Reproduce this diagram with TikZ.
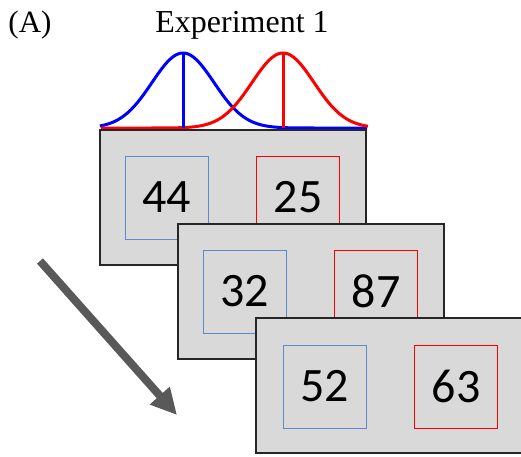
\documentclass[tikz,border=0pt]{standalone}
\usepackage{fontspec}
\setmainfont{Liberation Serif}
\newfontfamily\numfont{Carlito}
\usetikzlibrary{arrows.meta}
\definecolor{panelgray}{HTML}{D9D9D9}
\definecolor{boxblue}{HTML}{5B8BCB}
\definecolor{arrgray}{HTML}{595959}
\tikzset{
  panel/.style={draw=black!85, line width=1.3pt, fill=panelgray, minimum width=266pt, minimum height=135pt, inner sep=0pt},
  numbox/.style={draw=#1, line width=1pt, minimum size=83pt, inner sep=0pt, font=\numfont\fontsize{48}{50}\selectfont},
  curve/.style={line width=3pt}
}
\begin{document}
\begin{tikzpicture}[x=1pt,y=-1pt]
\useasboundingbox (0,0) rectangle (521,456);
\node[anchor=base] (lab) at (30,32) {\fontsize{31}{34}\selectfont (A)};
\node[anchor=base] (title) at (242,32) {\fontsize{32}{34}\selectfont Experiment 1};
% the two distributions
\draw[curve, blue] plot[domain=-2.68:5.94, samples=120] ({183+31*\x}, {128-75*exp(-\x*\x/2)});
\draw[curve, red] plot[domain=-5.87:2.74, samples=120] ({283+31*\x}, {128-75*exp(-\x*\x/2)});
\coordinate (mb) at (183,53);
\coordinate (mr) at (283,53);
\draw[curve, blue] (mb) -- (183,128);
\draw[curve, red] (mr) -- (283,128);
% trials
\node[panel] (p1) at (233,197.5) {};
\node[numbox=boxblue] (b1) at (166.5,197.5) {44};
\node[numbox=red] (r1) at (298,197.5) {25};
\node[panel] (p2) at (311,291.5) {};
\node[numbox=boxblue] (b2) at (244.5,291.5) {32};
\node[numbox=red] (r2) at (376,291.5) {87};
\node[panel] (p3) at (389,385.5) {};
\node[numbox=boxblue] (b3) at (324.5,386.5) {52};
\node[numbox=red] (r3) at (456,386.5) {63};
% time arrow
\coordinate (as) at (40,261);
\coordinate (ae) at (177,415);
\draw[arrgray, line width=8pt, -{Triangle[length=26pt,width=25pt]}] (as) -- (ae);
\end{tikzpicture}
\end{document}
